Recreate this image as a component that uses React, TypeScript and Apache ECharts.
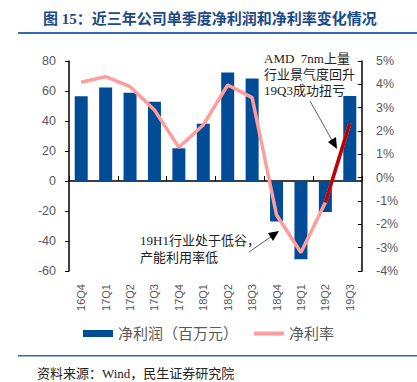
import React, { useEffect, useRef } from "react";
import * as echarts from "echarts";

const categories = ["16Q4", "17Q1", "17Q2", "17Q3", "17Q4", "18Q1", "18Q2", "18Q3", "18Q4", "19Q1", "19Q2", "19Q3"];
const netProfit = [56.5, 62.3, 58.9, 52.9, 21.8, 38.2, 72.4, 68.4, -27, -52.2, -20.7, 56.7];
const netMargin = [4.09, 4.33, 3.9, 2.9, 1.3, 2.26, 3.97, 3.43, -1.6, -3.21, -1.06, 2.33];
const turnaround = ["-", "-", "-", "-", "-", "-", "-", "-", "-", "-", -1.06, 2.33];
const leftTicks = { min: -60, max: 80, interval: 20 };
const rightTicks = { min: -4, max: 5, interval: 1 };

const SERIF = "'Liberation Serif', 'Noto Sans CJK SC', serif";
const SANS = "'Liberation Sans', 'Noto Sans CJK SC', sans-serif";
const LINE_ICON = "path://M0,0L0.01,0L0,0.01ZM0,1.5L30,1.5L30,5.5L0,5.5ZM0,7L0.01,7L0,6.99Z";

export default function App() {
  const ref = useRef<HTMLDivElement>(null);
  useEffect(() => {
    if (!ref.current) return;
    const chart = echarts.init(ref.current, null, { renderer: "svg" });
    const gray = "#595959";
    chart.setOption({
      animation: false,
      backgroundColor: "#fff",
      grid: { left: 69, right: 55, top: 61, bottom: 111, containLabel: false },
      legend: {
        bottom: 36,
        left: "center",
        itemWidth: 30,
        itemHeight: 7,
        itemGap: 16,
        data: [
          { name: "净利润（百万元）", icon: "rect" },
          { name: "净利率", icon: LINE_ICON },
        ],
        textStyle: { fontFamily: SANS, fontSize: 15, color: gray },
      },
      xAxis: [
        {
          type: "category",
          data: categories,
          position: "bottom",
          axisLine: { show: false },
          axisTick: { show: false },
          axisLabel: { rotate: 90, fontSize: 11, color: gray, fontFamily: SANS, margin: 13 },
        },
        {
          type: "category",
          data: categories,
          position: "bottom",
          axisLine: { show: true, onZero: true, onZeroAxisIndex: 0, lineStyle: { color: "#000", width: 1.5 } },
          axisTick: { show: true, inside: true, length: 5, lineStyle: { color: "#000" } },
          axisLabel: { show: false },
        },
      ],
      yAxis: [
        {
          type: "value",
          ...leftTicks,
          axisLine: { show: true, lineStyle: { color: "#000", width: 1.5 } },
          axisTick: { show: true, length: 4, lineStyle: { color: "#000" } },
          splitLine: { show: false },
          axisLabel: { fontSize: 12.5, color: gray, fontFamily: SANS, margin: 13 },
        },
        {
          type: "value",
          ...rightTicks,
          axisLine: { show: true, lineStyle: { color: "#000", width: 1.5 } },
          axisTick: { show: true, inside: true, length: 4, lineStyle: { color: "#000" } },
          splitLine: { show: false },
          axisLabel: { fontSize: 12.5, color: gray, fontFamily: SANS, margin: 14, formatter: "{value}%" },
        },
      ],
      series: [
        {
          name: "净利润（百万元）",
          type: "bar",
          data: netProfit,
          barWidth: 13,
          itemStyle: { color: "#004C97" },
          xAxisIndex: 0,
          yAxisIndex: 0,
        },
        {
          name: "净利率",
          type: "line",
          data: netMargin,
          yAxisIndex: 1,
          xAxisIndex: 0,
          symbol: "none",
          showSymbol: false,
          lineStyle: { color: "#FF9C9C", width: 3.5 },
          itemStyle: { color: "#FF9C9C" },
        },
        {
          name: "扭亏",
          type: "line",
          data: turnaround,
          yAxisIndex: 1,
          xAxisIndex: 0,
          symbol: "none",
          showSymbol: false,
          lineStyle: { color: "#C00000", width: 3.5 },
          itemStyle: { color: "#C00000" },
        },
      ],
      graphic: [
        {
          type: "text",
          left: 43,
          top: 11,
          style: {
            text: "图 15：近三年公司单季度净利润和净利率变化情况",
            font: `bold 15px ${SERIF}`,
            fill: "#1B4A86",
          },
        },
        { type: "rect", shape: { x: 18, y: 32, width: 399, height: 2 }, style: { fill: "#2E6BB0" } },
        { type: "rect", shape: { x: 18, y: 355, width: 399, height: 1.5 }, style: { fill: "#2E6BB0" } },
        {
          type: "text",
          left: 37,
          top: 367,
          style: { text: "资料来源：Wind，民生证券研究院", font: `13px ${SERIF}`, fill: "#222" },
        },
        {
          type: "text",
          left: 264,
          top: 50,
          style: {
            text: "AMD  7nm上量\n行业景气度回升\n19Q3成功扭亏",
            font: `13px ${SERIF}`,
            fill: "#222",
            lineHeight: 16,
          },
        },
        { type: "line", shape: { x1: 310, y1: 101, x2: 333, y2: 142 }, style: { stroke: "#333", lineWidth: 0.8 } },
        { type: "polygon", shape: { points: [[337, 149], [328, 142], [336, 137]] }, style: { fill: "#000" } },
        {
          type: "text",
          left: 140,
          top: 232,
          style: {
            text: "19H1行业处于低谷，\n产能利用率低",
            font: `13px ${SERIF}`,
            fill: "#222",
            lineHeight: 17,
          },
        },
        { type: "line", shape: { x1: 249, y1: 252, x2: 272, y2: 236 }, style: { stroke: "#333", lineWidth: 0.8 } },
        { type: "polygon", shape: { points: [[279, 231], [268, 233], [273, 241]] }, style: { fill: "#000" } },
      ],
    });
    return () => chart.dispose();
  }, []);
  return <div ref={ref} style={{ position: "absolute", left: 0, top: 0, width: 417, height: 382 }} />;
}
